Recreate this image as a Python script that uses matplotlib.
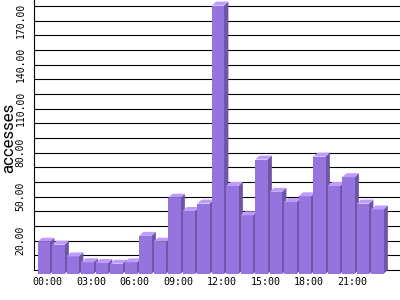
import numpy as np
import matplotlib
matplotlib.use('Agg')
import matplotlib.pyplot as plt
from matplotlib.patches import Polygon

# Data: accesses per hour
hours = ['00:00', '01:00', '02:00', '03:00', '04:00', '05:00', '06:00', '07:00',
         '08:00', '09:00', '10:00', '11:00', '12:00', '13:00', '14:00', '15:00',
         '16:00', '17:00', '18:00', '19:00', '20:00', '21:00', '22:00', '23:00']
accesses = [22, 20, 12, 8, 7.5, 7, 8, 26, 22, 52, 43, 48,
            183, 60, 40, 78, 56, 49, 53, 80, 60, 66, 48, 44]
tick_hours = ['00:00', '03:00', '06:00', '09:00', '12:00', '15:00', '18:00', '21:00']
ytick_vals = [20, 50, 80, 110, 140, 170]

# Colors of the 3d bars
front_col = '#9575DD'
top_col = '#BF9BFF'
side_col = '#6D55A8'

fig = plt.figure(figsize=(4, 3), dpi=100)
ax = fig.add_axes([34/400, 24/300, 366/400, 276/300])

ylo = -6/1.4667
yhi = 270/1.4667
xlo = -0.255
xhi = xlo + 366/14.5
ax.set_xlim(xlo, xhi)
ax.set_ylim(ylo, yhi)

w = 0.85    # front width
dx = 0.3    # depth in x
dy = 2.7    # depth in y

# Grid lines (back plane)
for v in range(0, 181, 10):
    ax.axhline(v, color='black', lw=0.8, zorder=1)

# Bars, left to right so the next front hides the previous side
for i, v in enumerate(accesses):
    x0 = i
    z = 2 + i*0.01
    front = Polygon([(x0, -dy), (x0+w, -dy), (x0+w, v-dy), (x0, v-dy)],
                    closed=True, facecolor=front_col, edgecolor='none', zorder=z)
    top = Polygon([(x0, v-dy), (x0+w, v-dy), (x0+w+dx, v), (x0+dx, v)],
                  closed=True, facecolor=top_col, edgecolor='none', zorder=z)
    side = Polygon([(x0+w, -dy), (x0+w+dx, 0), (x0+w+dx, v), (x0+w, v-dy)],
                   closed=True, facecolor=side_col, edgecolor='none', zorder=z)
    ax.add_patch(side)
    ax.add_patch(front)
    ax.add_patch(top)

# Axes and ticks
for s in ['top', 'right', 'bottom']:
    ax.spines[s].set_visible(False)
ax.spines['left'].set_bounds(0, yhi)
ax.spines['left'].set_linewidth(0.8)
ax.spines['left'].set_zorder(3)

ax.set_yticks(ytick_vals)
ax.set_yticklabels(['%.2f' % v for v in ytick_vals], rotation=90, va='center',
                   family='DejaVu Sans Mono', fontsize=7)
ax.tick_params(axis='y', length=0, pad=6)

xt = [hours.index(h) + 0.7 for h in tick_hours]
ax.set_xticks(xt)
ax.set_xticklabels(tick_hours, family='DejaVu Sans Mono', fontsize=7.2)
ax.tick_params(axis='x', length=0, pad=1)

fig.text(9/400, 1 - 138/300, 'accesses', rotation=90, ha='center', va='center',
         fontsize=12, family=['Roboto', 'DejaVu Sans'], color='black')

fig.savefig('out.png', dpi=100)
